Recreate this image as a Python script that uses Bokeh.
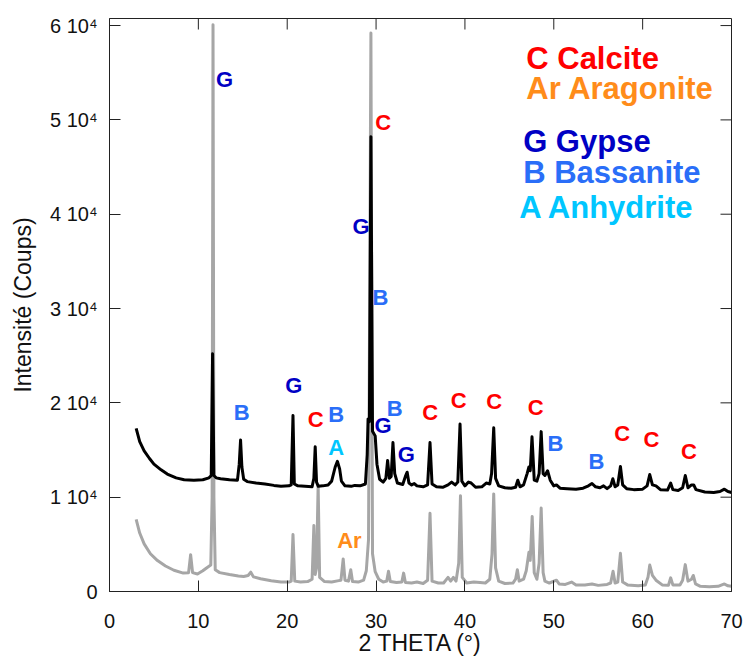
from bokeh.plotting import figure
from bokeh.models import Range1d, FixedTicker, ColumnDataSource
from bokeh.core.properties import value
from bokeh.embed import file_html
from bokeh.resources import INLINE
import math

# ---- data ----
black_x = [3.0, 3.4, 3.9, 4.5, 5.0, 5.8, 6.5, 7.5, 8.4, 9.5, 10.5, 11.2, 11.45, 11.6, 11.75, 12.0, 12.5, 13.5,
           14.4, 14.6, 14.75, 14.9, 15.1, 15.5, 16.5, 17.5, 18.5, 19.3, 20.2, 20.45, 20.65, 20.8, 21.2, 22.0,
           22.8, 23.0, 23.15, 23.3, 23.5, 24.0, 24.6, 25.0, 25.4, 25.65, 25.9, 26.1, 26.5, 27.2, 27.6, 28.2,
           28.8, 29.0, 29.1, 29.25, 29.42, 29.6, 29.9, 30.1, 30.4, 30.8, 31.1, 31.3, 31.5, 31.7, 31.9, 32.1,
           32.4, 33.0, 33.3, 33.5, 33.7, 34.0, 34.3, 34.6, 35.3, 35.8, 36.07, 36.3, 36.8, 37.5, 38.1, 38.5,
           38.9, 39.2, 39.45, 39.65, 40.0, 40.4, 40.7, 41.2, 41.9, 42.4, 42.8, 43.0, 43.24, 43.45, 43.8, 44.5,
           45.2, 45.7, 45.95, 46.2, 46.6, 47.0, 47.2, 47.35, 47.55, 47.8, 48.1, 48.35, 48.58, 48.8, 49.0, 49.3,
           49.6, 50.0, 50.3, 50.7, 51.5, 52.5, 53.3, 53.9, 54.3, 54.7, 55.2, 55.6, 56.0, 56.4, 56.65, 56.9,
           57.2, 57.5, 57.75, 58.2, 59.0, 60.0, 60.5, 60.8, 61.1, 61.5, 62.0, 62.8, 63.15, 63.4, 64.0, 64.5,
           64.8, 65.1, 65.5, 65.75, 66.0, 67.0, 68.0, 68.7, 69.2, 69.6, 70.0]
black_y = [17300, 15900, 14900, 14100, 13500, 12900, 12450, 12050, 11850, 11800, 11850, 12050, 12300, 25200, 12300, 12050, 11950, 11850,
           11800, 13500, 16050, 13200, 11900, 11650, 11500, 11400, 11250, 11150, 11200, 11300, 18650, 11400, 11200, 11150,
           11100, 12000, 15350, 11600, 11150, 11200, 11300, 11700, 13200, 13800, 13000, 11700, 11200, 11150, 11250, 11200,
           11400, 14500, 18300, 18000, 48200, 17000, 16500, 13500, 11900, 11600, 12000, 13900, 12000, 12200, 15800, 12500,
           11500, 11350, 12200, 12650, 11500, 11300, 11450, 11200, 11100, 11300, 15800, 11400, 11100, 11050, 11300, 11600,
           11300, 11600, 17750, 11700, 11200, 11600, 11500, 11050, 11100, 11500, 11400, 12500, 17350, 12000, 11200, 11000,
           10950, 11050, 11800, 11100, 11300, 12500, 13200, 12800, 16400, 11800, 11700, 12500, 16950, 12500, 12300, 12800,
           11800, 11200, 11300, 10950, 10900, 10850, 10950, 11200, 11450, 11100, 11000, 11200, 10900, 11200, 11950, 11100,
           11300, 13250, 11300, 10900, 10800, 10850, 11200, 12400, 11300, 11200, 10800, 10750, 11500, 10800, 10700, 11000,
           12300, 11000, 11300, 11300, 10800, 10550, 10500, 10600, 10850, 10600, 10500]

gray_x = [3.0, 3.4, 3.9, 4.6, 5.4, 6.3, 7.25, 8.3, 8.9, 9.13, 9.35, 9.9, 10.5, 11.0, 11.4, 11.55, 11.65, 11.75, 11.9,
          12.4, 13.5, 14.5, 15.1, 15.6, 15.9, 16.2, 17.0, 18.2, 19.3, 20.2, 20.45, 20.65, 20.85, 21.5, 22.3, 22.8,
          23.0, 23.15, 23.3, 23.48, 23.65, 24.2, 25.0, 25.8, 26.05, 26.3, 26.5, 26.9, 27.15, 27.35, 28.0, 28.6,
          28.9, 29.15, 29.42, 29.6, 29.9, 30.3, 30.8, 31.2, 31.4, 31.6, 32.3, 32.9, 33.1, 33.3, 34.0, 34.6, 35.3,
          35.8, 36.07, 36.3, 37.0, 37.6, 38.1, 38.4, 38.7, 39.0, 39.3, 39.5, 39.7, 40.2, 41.0, 41.7, 42.3, 42.8,
          43.05, 43.24, 43.45, 43.8, 44.5, 45.4, 45.7, 45.9, 46.1, 46.6, 46.9, 47.2, 47.35, 47.57, 47.8, 48.1,
          48.35, 48.58, 48.8, 49.0, 49.5, 50.3, 50.6, 51.3, 52.0, 52.5, 53.5, 54.3, 55.0, 56.0, 56.4, 56.67, 56.9,
          57.2, 57.5, 57.75, 58.3, 59.5, 60.3, 60.6, 60.8, 61.1, 61.5, 62.2, 62.9, 63.15, 63.4, 64.2, 64.5, 64.8,
          65.1, 65.5, 65.7, 65.95, 66.5, 67.5, 68.5, 69.2, 69.6, 70.0]
gray_y = [7650, 6200, 5050, 4000, 3280, 2700, 2250, 1950, 2000, 3900, 2000, 1850, 2200, 2550, 2800, 10000, 60100, 10000, 2300,
          2000, 1800, 1650, 1600, 1700, 2050, 1550, 1350, 1150, 1000, 1000, 1100, 6050, 1100, 1000, 1050, 1300,
          7000, 1800, 2500, 11300, 1500, 1050, 1000, 1150, 1200, 3450, 1200, 1100, 2300, 1050, 1000, 1200,
          2200, 5500, 59200, 4000, 2100, 1300, 1000, 1100, 2150, 1050, 950, 1000, 1950, 950, 900, 1000, 850,
          1200, 8300, 1100, 900, 900, 1500, 1100, 1500, 1100, 3000, 10150, 1500, 900, 1000, 950, 900, 1300,
          4000, 10350, 2500, 1100, 850, 900, 1300, 2300, 1100, 1300, 2200, 4150, 3300, 7950, 2000, 1300,
          3000, 8850, 2000, 1100, 900, 1200, 800, 750, 1000, 700, 700, 800, 650, 750, 900, 2150, 900,
          1000, 4050, 1000, 700, 600, 700, 1500, 2800, 1700, 1200, 700, 650, 1450, 700, 700, 1200, 2850,
          1100, 1300, 1700, 800, 550, 500, 550, 800, 600, 550]

ann_text = ["G", "C", "G", "B", "B", "G", "C", "B", "A", "G", "B", "G",
            "C", "C", "C", "C", "B", "B", "C", "C", "C", "Ar"]
ann_x = [12.96, 30.8, 28.3, 30.5, 14.88, 20.74, 23.2, 25.5, 25.5, 30.8, 32.1, 33.4,
         36.1, 39.3, 43.3, 47.97, 50.2, 54.8, 57.7, 61.0, 65.2, 27.0]
ann_y = [54300, 49700, 38700, 31150, 18950, 21800, 18200, 18750, 15250, 17600, 19400, 14550,
         18950, 20250, 20150, 19550, 15700, 13750, 16700, 16150, 14800, 5450]

phase_codes = ["C", "Ar", "G", "B", "A"]
phase_names = ["C Calcite", "Ar Aragonite", "G Gypse", "B Bassanite", "A Anhydrite"]
phase_colors = ["#ff0000", "#ff8c1a", "#0000c4", "#2a6ef8", "#00c6ff"]
legend_x = [46.9, 46.9, 46.55, 46.55, 46.1]
legend_y = [56550, 53350, 47750, 44450, 40750]

x_ticks = [0, 10, 20, 30, 40, 50, 60, 70]
y_ticks = [0, 10000, 20000, 30000, 40000, 50000, 60000]
y_tick_labels = ["0", "1 10\u2074", "2 10\u2074", "3 10\u2074", "4 10\u2074", "5 10\u2074", "6 10\u2074"]

X_MAX = 70
Y_MAX = 60750

FONT = "Liberation Sans"

p = figure(width=745, height=659, output_backend="svg", toolbar_location=None,
           x_range=Range1d(0, X_MAX), y_range=Range1d(0, Y_MAX),
           min_border_left=109, min_border_right=14, min_border_top=18, min_border_bottom=68)
p.background_fill_color = "white"
p.border_fill_color = "white"
p.outline_line_color = "#222222"
p.outline_line_width = 1
p.grid.visible = False

for ax in (p.xaxis[0], p.yaxis[0]):
    ax.axis_line_color = "#222222"
    ax.major_tick_line_color = "#222222"
    ax.major_tick_in = 11
    ax.major_tick_out = 0
    ax.minor_tick_line_color = None
    ax.major_label_text_font = FONT
    ax.major_label_text_font_size = "20px"
    ax.major_label_text_color = "#111111"
    ax.axis_label_text_font = FONT
    ax.axis_label_text_font_size = "23px"
    ax.axis_label_text_font_style = "normal"
    ax.axis_label_text_color = "#111111"

p.xaxis.ticker = FixedTicker(ticks=x_ticks)
p.xaxis.axis_label = "2 THETA (°)"
p.xaxis.major_label_standoff = 22
p.xaxis.axis_label_standoff = -1

p.yaxis.ticker = FixedTicker(ticks=y_ticks)
p.yaxis.major_label_overrides = {t: s for t, s in zip(y_ticks, y_tick_labels)}
p.yaxis.axis_label = "Intensité (Coups)"
p.yaxis.major_label_standoff = 12
p.yaxis.axis_label_standoff = 11

# inward ticks on top and right sides of the frame
top_ticks = x_ticks[1:-1]
right_ticks = y_ticks[1:]
p.ray(x=top_ticks, y=[Y_MAX] * len(top_ticks), length=11, length_units="screen",
      angle=-math.pi / 2, line_color="#222222", line_width=1)
p.ray(x=[X_MAX] * len(right_ticks), y=right_ticks, length=11, length_units="screen",
      angle=math.pi, line_color="#222222", line_width=1)

p.line(gray_x, gray_y, line_color="#a6a6a6", line_width=3, line_join="round")
p.line(black_x, black_y, line_color="#000000", line_width=3, line_join="round")

col = dict(zip(phase_codes, phase_colors))
src = ColumnDataSource(dict(x=ann_x, y=ann_y, t=ann_text, c=[col[t] for t in ann_text]))
p.text(x="x", y="y", text="t", text_color="c", source=src, text_align="center",
       text_baseline="middle", text_font=value(FONT), text_font_style="bold",
       text_font_size="22px")

lsrc = ColumnDataSource(dict(x=legend_x, y=legend_y, t=phase_names, c=phase_colors))
p.text(x="x", y="y", text="t", text_color="c", source=lsrc, text_align="left",
       text_baseline="middle", text_font=value(FONT), text_font_style="bold",
       text_font_size="31px")

open("out.html", "w").write(file_html(p, INLINE))
